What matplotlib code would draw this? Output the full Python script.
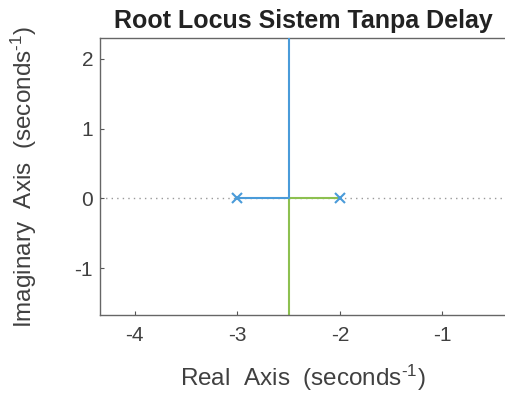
import matplotlib
matplotlib.use("Agg")
import matplotlib.pyplot as plt
import numpy as np

plt.rcParams['font.family'] = ['Liberation Sans', 'DejaVu Sans']
plt.rcParams['mathtext.fontset'] = 'custom'
plt.rcParams['mathtext.rm'] = 'Liberation Sans'
plt.rcParams['mathtext.it'] = 'Liberation Sans'
plt.rcParams['axes.unicode_minus'] = False

# Data
poles = [-3.0, -2.0]
branch1_real = [-3.0, -2.5, -2.5]
branch1_imag = [0.0, 0.0, 2.5]
branch2_real = [-2.0, -2.5, -2.5]
branch2_imag = [0.0, 0.0, -2.5]
xticks = [-4, -3, -2, -1]
yticks = [-1, 0, 1, 2]
xlim = (-4.34, -0.38)
ylim = (-1.67, 2.30)

blue = '#4a9bd9'
green = '#8dc050'
gray = '#404040'

fig = plt.figure(figsize=(5.06, 3.94), dpi=100)
ax = fig.add_axes([0.1976, 0.2005, 0.8024, 0.7031])

ax.axhline(0, color='#999999', linestyle=(0, (1, 3)), linewidth=1.0, zorder=1)
ax.plot(branch1_real, branch1_imag, color=blue, linewidth=1.5, zorder=3)
ax.plot(branch2_real, branch2_imag, color=green, linewidth=1.5, zorder=2)
ax.plot(poles, [0, 0], linestyle='none', marker='x', color=blue, markersize=7.5, markeredgewidth=1.5, zorder=4)

ax.set_xlim(*xlim)
ax.set_ylim(*ylim)
ax.set_xticks(xticks)
ax.set_yticks(yticks)
ax.set_xticklabels([str(t) for t in xticks])
ax.set_yticklabels([str(t) for t in yticks])
ax.tick_params(direction='in', length=3, width=0.8, colors='#555555', labelsize=15, labelcolor=gray)
ax.tick_params(axis='x', pad=8)
ax.tick_params(axis='y', pad=5)
for s in ['left', 'bottom', 'top']:
    ax.spines[s].set_color('#666666')
    ax.spines[s].set_linewidth(1.0)
ax.spines['right'].set_visible(False)

sup = '$^{\u2010' + '1}$'
ax.set_xlabel('Real  Axis  (seconds' + sup + ')', fontsize=17.5, color=gray, labelpad=13)
ax.set_ylabel('Imaginary  Axis  (seconds' + sup + ')', fontsize=17.5, color=gray)
ax.yaxis.set_label_coords(-0.150, 0.5)
ax.set_title('Root Locus Sistem Tanpa Delay', fontsize=18, fontweight='bold', color='#222222', pad=7)

fig.savefig('out.png', dpi=100)
